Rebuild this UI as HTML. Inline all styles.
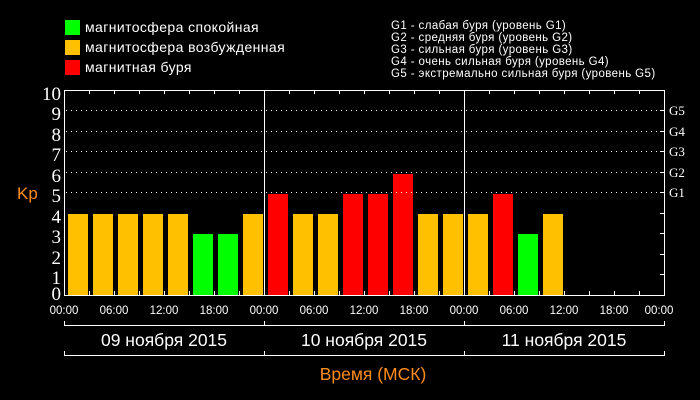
<!DOCTYPE html>
<html><head><meta charset="utf-8"><style>
html,body{margin:0;padding:0;background:#000;}
svg{display:block;font-family:"Liberation Sans","DejaVu Sans",sans-serif;}
</style></head><body>
<svg width="700" height="400" xmlns="http://www.w3.org/2000/svg">
<rect width="700" height="400" fill="#000"/>
<rect x="65" y="20" width="15" height="15" fill="#00ff00"/>
<rect x="65" y="40" width="15" height="15" fill="#ffc000"/>
<rect x="65" y="60" width="15" height="15" fill="#ff0000"/>
<g fill="#fff" font-size="14" letter-spacing="0.4">
<text x="85" y="32">магнитосфера спокойная</text>
<text x="85" y="52">магнитосфера возбужденная</text>
<text x="85" y="72">магнитная буря</text>
</g>
<g fill="#fff" font-size="11.5" letter-spacing="0.4">
<text x="391" y="29">G1 - слабая буря (уровень G1)</text>
<text x="391" y="41">G2 - средняя буря (уровень G2)</text>
<text x="391" y="53">G3 - сильная буря (уровень G3)</text>
<text x="391" y="65">G4 - очень сильная буря (уровень G4)</text>
<text x="391" y="77">G5 - экстремально сильная буря (уровень G5)</text>
</g>
<g>
<rect x="68" y="214" width="20" height="81" fill="#ffc000"/>
<rect x="93" y="214" width="20" height="81" fill="#ffc000"/>
<rect x="118" y="214" width="20" height="81" fill="#ffc000"/>
<rect x="143" y="214" width="20" height="81" fill="#ffc000"/>
<rect x="168" y="214" width="20" height="81" fill="#ffc000"/>
<rect x="193" y="234" width="20" height="61" fill="#00ff00"/>
<rect x="218" y="234" width="20" height="61" fill="#00ff00"/>
<rect x="243" y="214" width="20" height="81" fill="#ffc000"/>
<rect x="268" y="194" width="20" height="101" fill="#ff0000"/>
<rect x="293" y="214" width="20" height="81" fill="#ffc000"/>
<rect x="318" y="214" width="20" height="81" fill="#ffc000"/>
<rect x="343" y="194" width="20" height="101" fill="#ff0000"/>
<rect x="368" y="194" width="20" height="101" fill="#ff0000"/>
<rect x="393" y="174" width="20" height="121" fill="#ff0000"/>
<rect x="418" y="214" width="20" height="81" fill="#ffc000"/>
<rect x="443" y="214" width="20" height="81" fill="#ffc000"/>
<rect x="468" y="214" width="20" height="81" fill="#ffc000"/>
<rect x="493" y="194" width="20" height="101" fill="#ff0000"/>
<rect x="518" y="234" width="20" height="61" fill="#00ff00"/>
<rect x="543" y="214" width="20" height="81" fill="#ffc000"/>
</g>
<g stroke="#fff" stroke-width="1" stroke-dasharray="1,4">
<line x1="66" x2="662" y1="110.5" y2="110.5"/>
<line x1="66" x2="662" y1="131.5" y2="131.5"/>
<line x1="66" x2="662" y1="151.5" y2="151.5"/>
<line x1="66" x2="662" y1="172.5" y2="172.5"/>
<line x1="66" x2="662" y1="192.5" y2="192.5"/>
</g>
<g stroke="#fff" stroke-width="1" fill="none">
<rect x="64.5" y="90.5" width="600" height="205"/>
<line x1="264.5" x2="264.5" y1="90" y2="295"/>
<line x1="464.5" x2="464.5" y1="90" y2="295"/>
</g>
<g stroke="#fff" stroke-width="1">
<line x1="89.5" x2="89.5" y1="90" y2="94"/><line x1="114.5" x2="114.5" y1="90" y2="94"/><line x1="139.5" x2="139.5" y1="90" y2="94"/><line x1="164.5" x2="164.5" y1="90" y2="94"/><line x1="189.5" x2="189.5" y1="90" y2="94"/><line x1="214.5" x2="214.5" y1="90" y2="94"/><line x1="239.5" x2="239.5" y1="90" y2="94"/>
<line x1="289.5" x2="289.5" y1="90" y2="94"/><line x1="314.5" x2="314.5" y1="90" y2="94"/><line x1="339.5" x2="339.5" y1="90" y2="94"/><line x1="364.5" x2="364.5" y1="90" y2="94"/><line x1="389.5" x2="389.5" y1="90" y2="94"/><line x1="414.5" x2="414.5" y1="90" y2="94"/><line x1="439.5" x2="439.5" y1="90" y2="94"/>
<line x1="489.5" x2="489.5" y1="90" y2="94"/><line x1="514.5" x2="514.5" y1="90" y2="94"/><line x1="539.5" x2="539.5" y1="90" y2="94"/><line x1="564.5" x2="564.5" y1="90" y2="94"/><line x1="589.5" x2="589.5" y1="90" y2="94"/><line x1="614.5" x2="614.5" y1="90" y2="94"/><line x1="639.5" x2="639.5" y1="90" y2="94"/>
<line x1="89.5" x2="89.5" y1="291" y2="295"/><line x1="114.5" x2="114.5" y1="291" y2="295"/><line x1="139.5" x2="139.5" y1="291" y2="295"/><line x1="164.5" x2="164.5" y1="291" y2="295"/><line x1="189.5" x2="189.5" y1="291" y2="295"/><line x1="214.5" x2="214.5" y1="291" y2="295"/><line x1="239.5" x2="239.5" y1="291" y2="295"/>
<line x1="289.5" x2="289.5" y1="291" y2="295"/><line x1="314.5" x2="314.5" y1="291" y2="295"/><line x1="339.5" x2="339.5" y1="291" y2="295"/><line x1="364.5" x2="364.5" y1="291" y2="295"/><line x1="389.5" x2="389.5" y1="291" y2="295"/><line x1="414.5" x2="414.5" y1="291" y2="295"/><line x1="439.5" x2="439.5" y1="291" y2="295"/>
<line x1="489.5" x2="489.5" y1="291" y2="295"/><line x1="514.5" x2="514.5" y1="291" y2="295"/><line x1="539.5" x2="539.5" y1="291" y2="295"/><line x1="564.5" x2="564.5" y1="291" y2="295"/><line x1="589.5" x2="589.5" y1="291" y2="295"/><line x1="614.5" x2="614.5" y1="291" y2="295"/><line x1="639.5" x2="639.5" y1="291" y2="295"/>
<line x1="660" x2="664" y1="110.5" y2="110.5"/><line x1="660" x2="664" y1="131.5" y2="131.5"/><line x1="660" x2="664" y1="151.5" y2="151.5"/><line x1="660" x2="664" y1="172.5" y2="172.5"/><line x1="660" x2="664" y1="192.5" y2="192.5"/><line x1="660" x2="664" y1="213.5" y2="213.5"/><line x1="660" x2="664" y1="233.5" y2="233.5"/><line x1="660" x2="664" y1="254.5" y2="254.5"/><line x1="660" x2="664" y1="274.5" y2="274.5"/>
<line x1="64" x2="665" y1="325.5" y2="325.5"/>
<line x1="64" x2="665" y1="355.5" y2="355.5"/>
<line x1="64.5" x2="64.5" y1="321" y2="326"/><line x1="264.5" x2="264.5" y1="321" y2="326"/><line x1="464.5" x2="464.5" y1="321" y2="326"/><line x1="664.5" x2="664.5" y1="321" y2="326"/>
<line x1="64.5" x2="64.5" y1="351" y2="356"/><line x1="264.5" x2="264.5" y1="351" y2="356"/><line x1="464.5" x2="464.5" y1="351" y2="356"/><line x1="664.5" x2="664.5" y1="351" y2="356"/>
</g>
<g fill="#fff" font-family="Liberation Serif, serif" font-size="19" text-anchor="end">
<text x="61" y="100">10</text><text x="61" y="120">9</text><text x="61" y="141">8</text><text x="61" y="161">7</text><text x="61" y="182">6</text><text x="61" y="202">5</text><text x="61" y="223">4</text><text x="61" y="243">3</text><text x="61" y="264">2</text><text x="61" y="284">1</text><text x="61" y="300">0</text>
</g>
<text x="17" y="199" fill="#ff8c1a" font-size="17">Kp</text>
<g fill="#fff" font-family="Liberation Serif, serif" font-size="13">
<text x="669" y="115">G5</text><text x="669" y="136">G4</text><text x="669" y="156">G3</text><text x="669" y="177">G2</text><text x="669" y="197">G1</text>
</g>
<g fill="#fff" font-size="11.5" text-anchor="middle">
<text x="64" y="314">00:00</text><text x="114" y="314">06:00</text><text x="164" y="314">12:00</text><text x="214" y="314">18:00</text>
<text x="264" y="314">00:00</text><text x="314" y="314">06:00</text><text x="364" y="314">12:00</text><text x="414" y="314">18:00</text>
<text x="464" y="314">00:00</text><text x="514" y="314">06:00</text><text x="564" y="314">12:00</text><text x="614" y="314">18:00</text><text x="659" y="314">00:00</text>
</g>
<g fill="#fff" font-size="17.5" text-anchor="middle">
<text x="164" y="346">09 ноября 2015</text><text x="364" y="346">10 ноября 2015</text><text x="564" y="346">11 ноября 2015</text>
</g>
<text x="373" y="380" fill="#ff8c1a" font-size="17.5" text-anchor="middle">Время (МСК)</text>
</svg>
</body></html>
